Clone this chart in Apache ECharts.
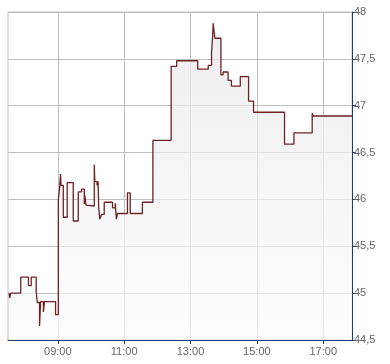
<!DOCTYPE html>
<html>
<head>
<meta charset="utf-8">
<script src="https://cdn.jsdelivr.net/npm/echarts@6/dist/echarts.min.js"></script>
<style>
html,body{margin:0;padding:0;background:#fff;}
#chart{width:390px;height:364px;}
</style>
</head>
<body>
<div id="chart"></div>
<script>
var times = ['07:32','07:33','07:35','07:53','08:07','08:12','08:21','08:23','08:27','08:29','08:34','08:36','08:56','09:01','09:03','09:05','09:06','09:10','09:17','09:28','09:37','09:43','09:48','09:49','09:51','09:53','10:06','10:07','10:11','10:13','10:14','10:16','10:19','10:24','10:39','10:44','10:46','10:48','11:06','11:11','11:33','11:52','12:25','12:35','13:13','13:32','13:38','13:40','13:41','13:44','13:55','13:59','14:08','14:14','14:30','14:45','14:54','15:50','16:07','16:40','16:42','17:52'];
var prices = [45.00,44.95,45.00,45.17,45.08,45.17,45.01,44.90,44.65,44.91,44.80,44.91,44.77,46.00,46.10,46.27,46.15,45.81,46.18,45.77,46.08,46.11,45.95,46.04,45.94,45.93,46.37,46.19,46.15,46.19,45.91,45.79,45.84,45.97,45.91,45.96,45.79,45.85,46.07,45.85,45.97,46.63,47.42,47.48,47.39,47.43,47.57,47.74,47.88,47.72,47.33,47.36,47.27,47.21,47.31,47.05,46.93,46.59,46.71,46.92,46.89,46.89];
var xTickLabels = ['09:00','11:00','13:00','15:00','17:00'];
var xStart = '07:30', xEnd = '17:52';
var yMin = 44.5, yMax = 48, yStep = 0.5;

function toMin(s){var p=s.split(':');return (+p[0])*60+(+p[1]);}
function fmt(m){var h=Math.floor(m/60),mm=Math.round(m%60);return (h<10?'0':'')+h+':'+(mm<10?'0':'')+mm;}
var data = times.map(function(t,i){return [toMin(t), prices[i]];});
var tickVals = xTickLabels.map(toMin);

var chart = echarts.init(document.getElementById('chart'));
var navy = '#1d3c6b';
var grid = '#bebebe';
var font = 'Liberation Sans, Arial, sans-serif';
chart.setOption({
  animation:false,
  backgroundColor:'#fff',
  grid:{left:8,right:38,top:12,bottom:24,show:true,borderColor:grid,borderWidth:1,backgroundColor:'transparent'},
  xAxis:{
    type:'value', min:toMin(xStart), max:toMin(xEnd),
    axisLine:{show:true,lineStyle:{color:navy,width:1}},
    axisTick:{show:true,length:4,lineStyle:{color:navy},customValues:tickVals},
    axisLabel:{customValues:tickVals,formatter:function(v){return fmt(v);},color:'#666',fontFamily:font,fontSize:11,margin:6},
    splitLine:{show:true,lineStyle:{color:grid,width:1}}
  },
  yAxis:{
    type:'value', position:'right', min:yMin, max:yMax, interval:yStep,
    axisLine:{show:true,lineStyle:{color:navy,width:1}},
    axisTick:{show:true,length:4,inside:false,lineStyle:{color:navy}},
    axisLabel:{formatter:function(v){return String(v).replace('.',',');},color:'#666',fontFamily:font,fontSize:11,margin:2},
    splitLine:{show:true,lineStyle:{color:grid,width:1}}
  },
  series:[{
    type:'line', step:'end', data:data, showSymbol:false, symbol:'none',
    lineStyle:{color:'#6e2226',width:1.3},
    areaStyle:{origin:'start',color:new echarts.graphic.LinearGradient(0,0,0,1,[{offset:0,color:'#e7e7e7'},{offset:1,color:'#fcfcfc'}])}
  }]
});
</script>
</body>
</html>
